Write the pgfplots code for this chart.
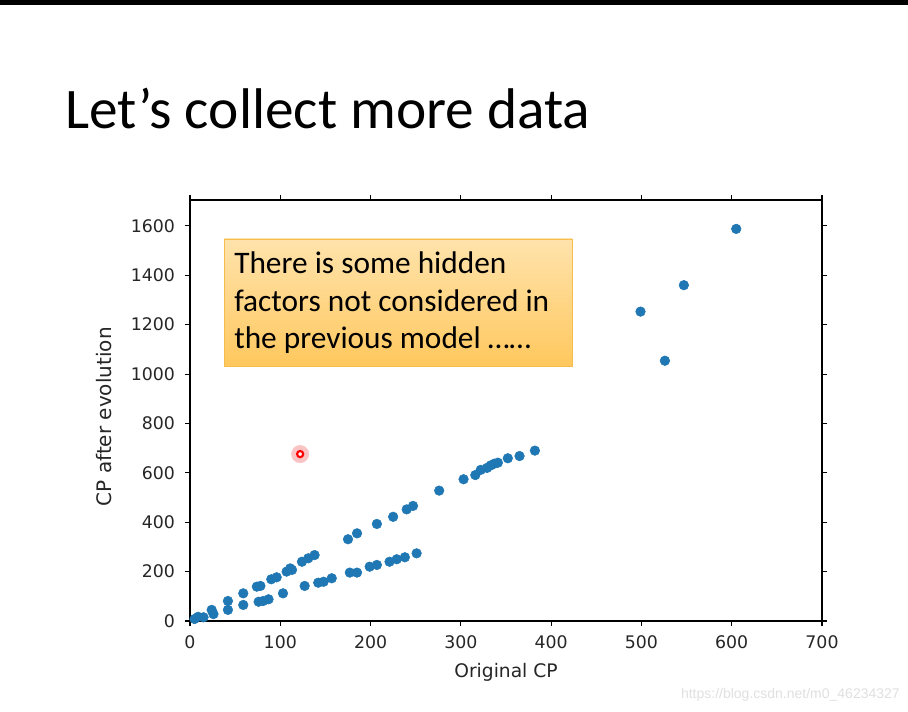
\documentclass[border=0pt]{standalone}
\usepackage{fontspec}
\usepackage{pgfplots}
\pgfplotsset{compat=1.18}
\setmainfont{Carlito}
\newfontfamily\dvs{DejaVu Sans}
\newfontfamily\lsans{Liberation Sans}
\definecolor{mplblue}{HTML}{1F77B4}
\definecolor{boxtop}{HTML}{FFE3AC}
\definecolor{boxbot}{HTML}{FFC85E}
\definecolor{boxedge}{HTML}{F6BD4E}
\definecolor{halo}{HTML}{FBC4C4}
\begin{document}
\begin{tikzpicture}[x=0.75pt,y=0.75pt]
\fill[white] (0,0) rectangle (908,712);
\fill[black] (0,712) rectangle (908,707);
\node[anchor=base west,inner sep=0pt,font=\fontsize{43}{50}\selectfont] at (65,583) {Let’s collect more data};
\begin{axis}[
  at={(142.5pt,68.25pt)}, anchor=south west,
  scale only axis, width=474pt, height=315.75pt,
  xmin=0, xmax=700, ymin=0, ymax=1705,
  xtick={0,100,...,700}, ytick={0,200,...,1600},
  tick align=outside, xtick pos=both, ytick pos=both,
  major tick length=3.75pt,
  every tick/.style={black, line width=0.8pt},
  axis line style={black, line width=0.9pt},
  /pgf/number format/assume math mode=true,
  /pgf/number format/set thousands separator={},
  ticklabel style={font=\dvs\fontsize{13}{15}\selectfont, text=black!85},
  yticklabel style={xshift=-4pt},
  xticklabel style={yshift=-4pt},
  xlabel={Original CP}, ylabel={CP after evolution},
  xlabel style={font=\dvs\fontsize{14}{16}\selectfont, text=black!85, at={(axis description cs:0.5,-0.121)}, anchor=center},
  ylabel style={font=\dvs\fontsize{15}{17}\selectfont, text=black!85, at={(axis description cs:-0.136,0.485)}, anchor=center},
  clip=false,
]
\addplot[only marks, mark=*, mark size=3.6pt, mark options={draw=mplblue, fill=mplblue}] coordinates {
(5,8) (9,17) (15,15) (24,45) (26,28) (42,81) (42,45) (59,112) (59,65)
(74,139) (78,142) (76,78) (81,81) (87,88) (90,169) (96,177) (103,112)
(107,200) (111,213) (113,207) (124,240) (127,142) (131,254) (138,267)
(142,155) (148,159) (157,173) (177,196) (185,196) (199,220) (207,227)
(221,240) (229,250) (238,258) (251,274) (175,331) (185,355) (207,393)
(225,422) (240,452) (247,466) (276,528) (303,574) (316,591) (322,612)
(329,620) (333,630) (337,637) (341,641) (352,659) (365,668) (382,690)
(499,1253) (526,1054) (547,1360) (605,1588)
};
\addplot[only marks, halo, mark=*, mark size=6.5pt, mark options={draw=halo, fill=halo}] coordinates {(122,676)};
\addplot[only marks, red, mark=*, mark size=2.3pt, mark options={draw=red, line width=1.6pt, fill=white}] coordinates {(122,676)};
\end{axis}
\shade[top color=boxtop, bottom color=boxbot, draw=boxedge, line width=0.6pt] (224,473) rectangle (572,346);
\node[anchor=base west,inner sep=0pt,font=\fontsize{23.5}{28}\selectfont] at (234,438) {There is some hidden};
\node[anchor=base west,inner sep=0pt,font=\fontsize{23.5}{28}\selectfont] at (234,400) {factors not considered in};
\node[anchor=base west,inner sep=0pt,font=\fontsize{23.5}{28}\selectfont] at (234,363) {the previous model \ldots\ldots};
\node[anchor=base east,inner sep=0pt,font=\lsans\fontsize{10.5}{12}\selectfont,text=black!12] at (900,13) {https://blog.csdn.net/m0\_46234327};
\end{tikzpicture}
\end{document}
